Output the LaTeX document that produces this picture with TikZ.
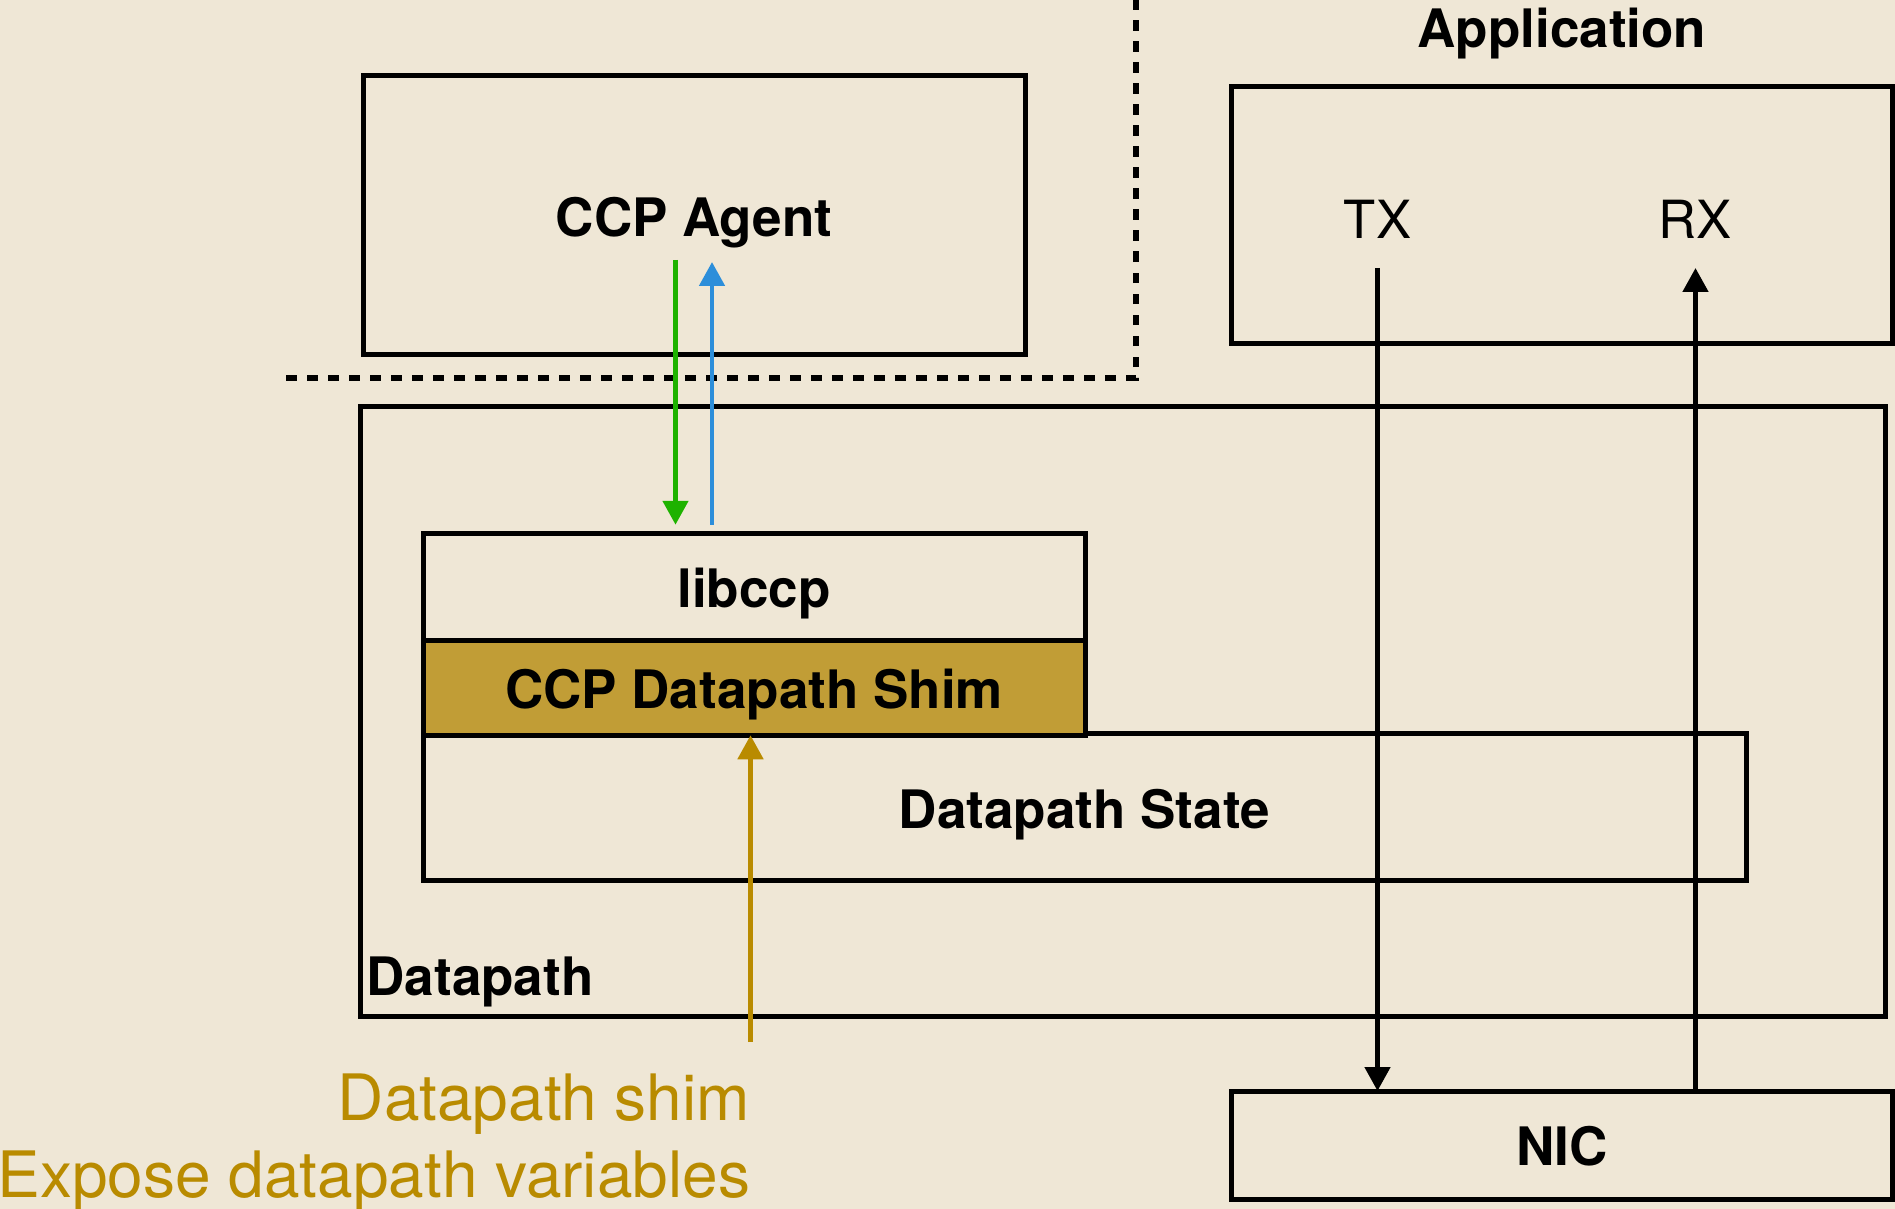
\documentclass[tikz,border=0pt]{standalone}
\usepackage{fontspec}
\setmainfont{TeX Gyre Heros}
\usetikzlibrary{arrows.meta}

\definecolor{paper}{RGB}{239,231,214}
\definecolor{shimfill}{RGB}{193,157,54}
\definecolor{goldtext}{RGB}{185,139,0}
\definecolor{downgreen}{RGB}{30,178,0}
\definecolor{upblue}{RGB}{44,142,218}

\tikzset{
  box/.style={draw=black, line width=2.5pt, rectangle, inner sep=0pt, outer sep=0pt},
  lbl/.style={font=\fontsize{26.5}{30}\selectfont\bfseries, inner sep=0pt},
  plainlbl/.style={font=\fontsize{26.3}{30}\selectfont, inner sep=0pt},
  note/.style={font=\fontsize{32}{36}\selectfont, text=goldtext, inner sep=0pt},
  link/.style={line width=2.4pt, -{Triangle[length=12pt,width=12.5pt]}},
  divider/.style={line width=2.8pt, dash pattern=on 5.25pt off 5.25pt},
}

\begin{document}
\begin{tikzpicture}[x=0.5pt,y=-0.5pt]
  % page
  \fill[paper] (0,0) rectangle (1895,1209);
  \useasboundingbox (0,0) rectangle (1895,1209);

  % user/kernel boundary
  \coordinate (divL) at (286,378);
  \coordinate (divC) at (1136,378);
  \coordinate (divT) at (1136,0);
  \draw[divider] (divL) -- (divC) -- (divT);

  % CCP agent
  \node[box, minimum width=331pt, minimum height=139pt] (agent) at (694,215) {};
  \node[lbl, anchor=base] (agenttxt) at (694,237) {CCP Agent};

  % application
  \node[lbl, anchor=base] (apptxt) at (1562,48) {Application};
  \node[box, minimum width=330.5pt, minimum height=128pt] (app) at (1562,215) {};
  \node[plainlbl, anchor=base] (tx) at (1377.5,239) {TX};
  \node[plainlbl, anchor=base] (rx) at (1695.5,239) {RX};

  % datapath
  \node[box, minimum width=762.5pt, minimum height=305pt] (datapath) at (1122.5,711) {};
  \node[lbl, anchor=base west] (dptxt) at (366,995) {Datapath};
  \node[box, minimum width=661.5pt, minimum height=73.75pt] (dstate) at (1084.5,807) {};
  \node[lbl, anchor=base] (dstatetxt) at (1084.5,828) {Datapath State};
  \node[box, minimum width=331pt, minimum height=53.25pt] (libccp) at (754,587) {};
  \node[lbl, anchor=base] (libccptxt) at (754,607) {libccp};
  \node[box, fill=shimfill, minimum width=331pt, minimum height=47.25pt] (shim) at (754,688) {};
  \node[lbl, anchor=base] (shimtxt) at (754,708) {CCP Datapath Shim};

  % NIC
  \node[box, minimum width=330.5pt, minimum height=54pt] (nic) at (1562,1145) {};
  \node[lbl, anchor=base] (nictxt) at (1562,1165) {NIC};

  % agent <-> libccp
  \coordinate (gtop) at (675.5,260);
  \coordinate (btop) at (712,262);
  \draw[link, downgreen, shorten >=4.5pt] (gtop) -- (gtop |- libccp.north);
  \draw[link, upblue, shorten <=4.5pt] (btop |- libccp.north) -- (btop);

  % packet path
  \coordinate (txtop) at (1377.5,268);
  \coordinate (rxtop) at (1695.5,268);
  \draw[link] (txtop) -- (txtop |- nic.north);
  \draw[link] (rxtop |- nic.north) -- (rxtop);

  % shim annotation
  \coordinate (shimfoot) at (750.5,1042);
  \draw[link, goldtext] (shimfoot) -- (shimfoot |- shim.south);
  \node[note, anchor=base east] (note1) at (750.5,1120) {Datapath shim};
  \node[note, anchor=base east] (note2) at (750.5,1197) {Expose datapath variables};
\end{tikzpicture}
\end{document}
